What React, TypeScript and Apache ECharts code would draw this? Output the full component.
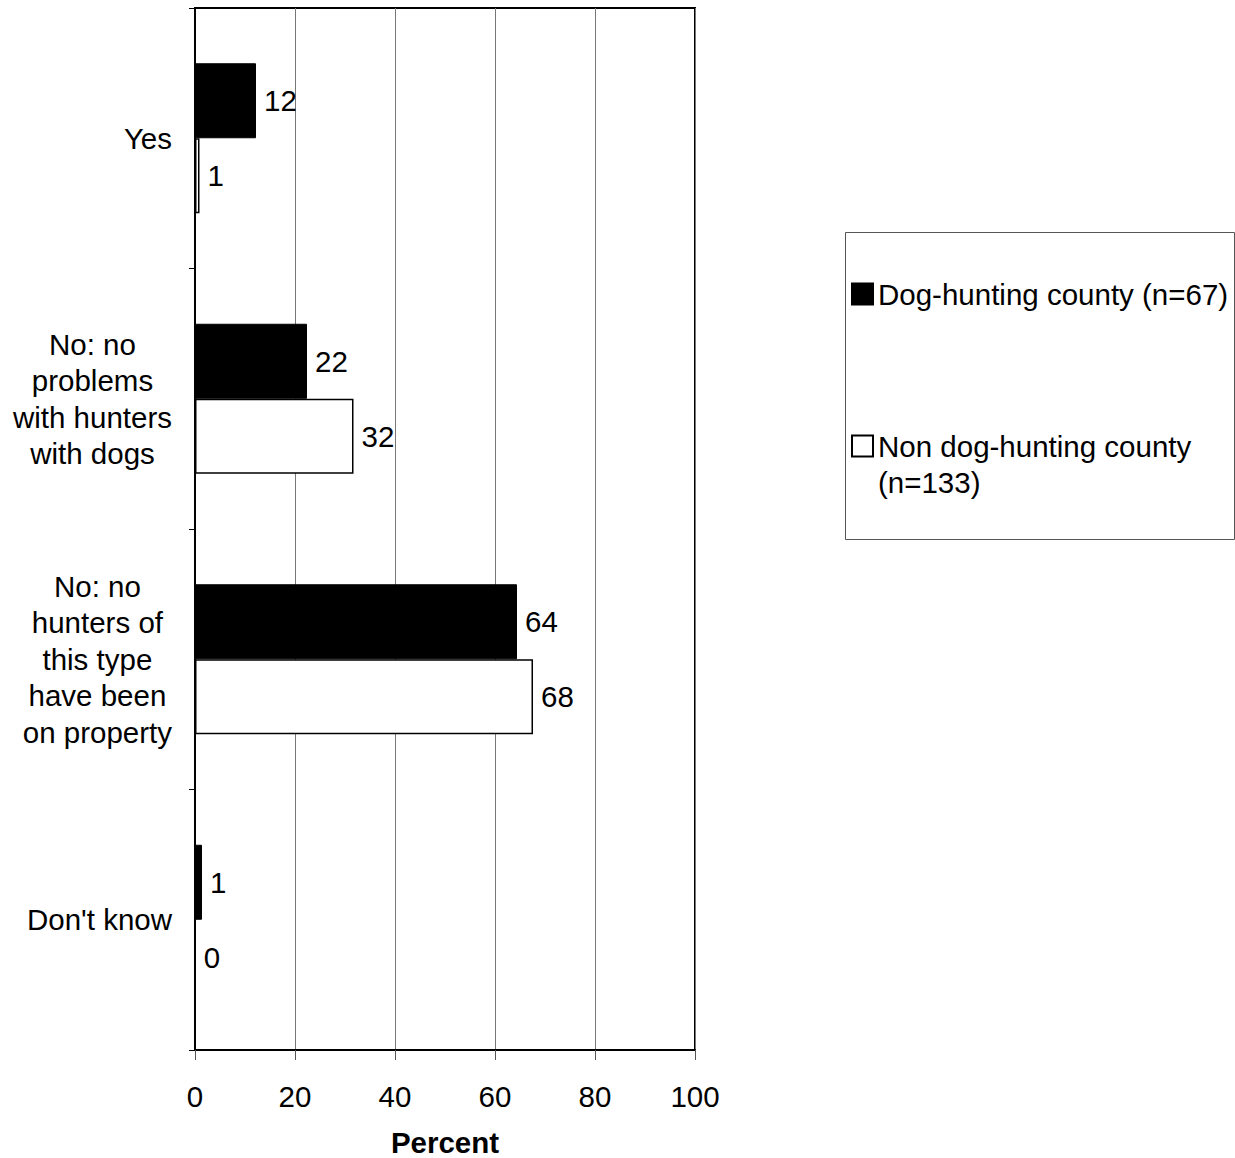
import React, { useEffect, useRef } from "react";
import * as echarts from "echarts";

const categories = [
  "Yes",
  "No: no\nproblems\nwith hunters\nwith dogs",
  "No: no\nhunters of\nthis type\nhave been\non property",
  "Don't know",
];
const seriesNames = ["Dog-hunting county (n=67)", "Non dog-hunting county\n(n=133)"];
const dogValues = [12.2, 22.4, 64.4, 1.4];
const nonDogValues = [0.9, 31.7, 67.6, 0];
const xTicks = { min: 0, max: 100, interval: 20 };

const FONT = "'Liberation Sans', Arial, Helvetica, sans-serif";
const FS = 29.5;

export default function App() {
  const ref = useRef<HTMLDivElement>(null);
  useEffect(() => {
    if (!ref.current) return;
    const chart = echarts.init(ref.current, undefined, { renderer: "svg" });
    const catFormatter = (v: string) =>
      v
        .split("\n")
        .map((l) => `{c|${l}}`)
        .join("\n");
    const labelCommon = {
      show: true,
      position: "right",
      distance: 8,
      color: "#000",
      fontSize: FS,
      fontFamily: FONT,
      formatter: (p: any) => String(Math.round(p.value)),
    };
    const legendCommon = {
      orient: "vertical",
      left: 851,
      padding: 0,
      itemWidth: 21,
      itemHeight: 21,
      icon: "rect",
      textStyle: { fontSize: FS, lineHeight: 36, color: "#000", fontFamily: FONT },
    };
    chart.setOption({
      animation: false,
      backgroundColor: "#fff",
      textStyle: { fontFamily: FONT },
      grid: {
        left: 195,
        top: 8,
        width: 500,
        height: 1042,
        show: true,
        borderColor: "#000",
        borderWidth: 2,
        backgroundColor: "transparent",
        containLabel: false,
        outerBoundsMode: "none",
      },
      xAxis: {
        type: "value",
        min: xTicks.min,
        max: xTicks.max,
        interval: xTicks.interval,
        name: "Percent",
        nameLocation: "middle",
        nameGap: 77,
        nameTextStyle: { fontSize: FS, lineHeight: 30, fontWeight: "bold", color: "#000", fontFamily: FONT },
        axisLine: { show: true, lineStyle: { color: "#000", width: 2 } },
        axisTick: { show: true, length: 10, lineStyle: { color: "#555", width: 1 } },
        axisLabel: { fontSize: FS, color: "#000", margin: 31, fontFamily: FONT },
        splitLine: { show: true, lineStyle: { color: "#777", width: 1 } },
      },
      yAxis: {
        type: "category",
        inverse: true,
        data: categories,
        axisLine: { show: true, lineStyle: { color: "#000", width: 2 } },
        axisTick: { show: true, length: 6, lineStyle: { color: "#000", width: 1 } },
        axisLabel: {
          fontSize: FS,
          lineHeight: 36.5,
          color: "#000",
          margin: 23,
          align: "right",
          fontFamily: FONT,
          formatter: catFormatter,
          rich: { c: { align: "center", fontSize: FS, lineHeight: 36.5, color: "#000", fontFamily: FONT } },
        },
        splitLine: { show: false },
      },
      legend: [
        { ...legendCommon, data: [seriesNames[0]], top: 276 },
        { ...legendCommon, data: [seriesNames[1]], top: 392, formatter: (name: string) => "\n" + name },
      ],
      graphic: [
        {
          type: "rect",
          shape: { x: 845.5, y: 232.5, width: 389, height: 307 },
          style: { fill: "none", stroke: "#555", lineWidth: 1 },
          silent: true,
        },
      ],
      series: [
        {
          name: seriesNames[0],
          type: "bar",
          data: dogValues,
          barWidth: 75,
          barGap: "0%",
          itemStyle: { color: "#000", borderColor: "#000", borderWidth: 1 },
          label: labelCommon,
        },
        {
          name: seriesNames[1],
          type: "bar",
          data: nonDogValues,
          barWidth: 75,
          barGap: "0%",
          itemStyle: { color: "#fff", borderColor: "#000", borderWidth: 1.5 },
          label: labelCommon,
        },
      ],
    });
    return () => chart.dispose();
  }, []);
  return <div ref={ref} style={{ position: "absolute", left: 0, top: 0, width: 1235, height: 1158 }} />;
}
